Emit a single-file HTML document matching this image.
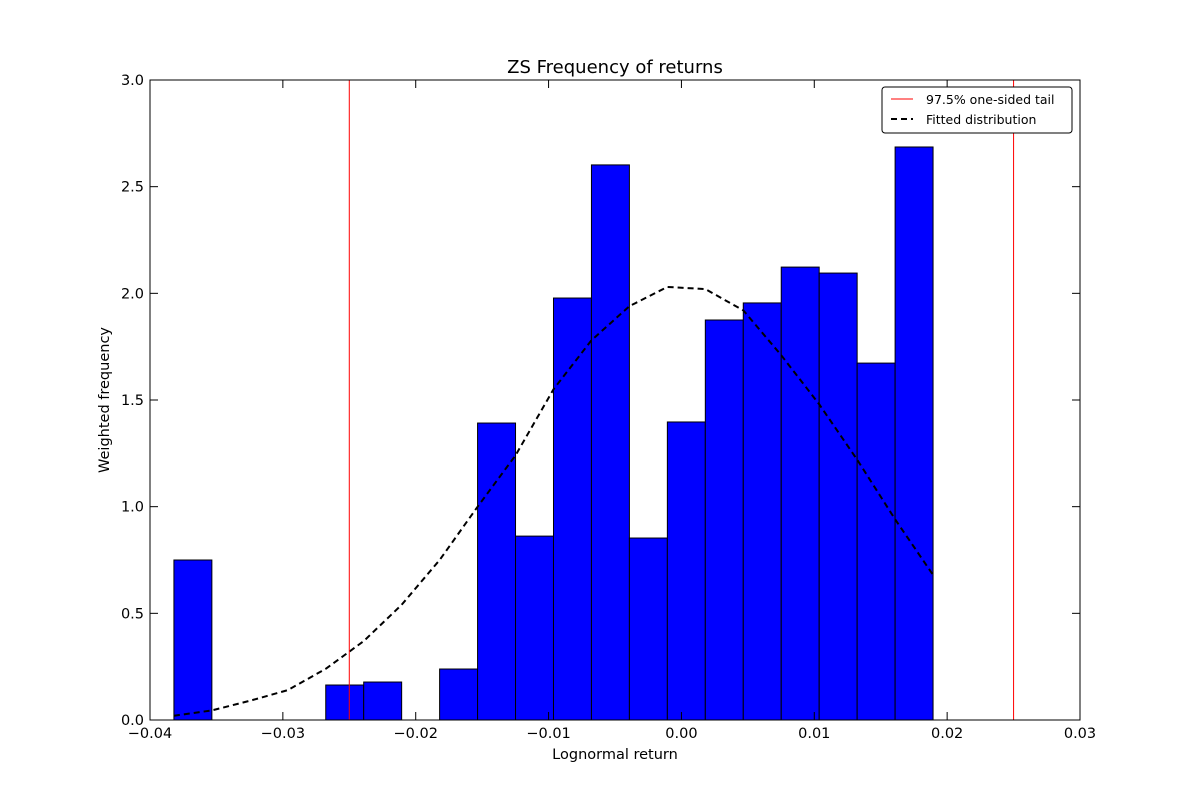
<!DOCTYPE html>
<html><head><meta charset="utf-8"><style>
body{margin:0;background:#fff}
svg text{font-family:"DejaVu Sans","Liberation Sans",sans-serif}
</style></head><body>
<svg id="chart" width="1200" height="800" xmlns="http://www.w3.org/2000/svg">
<rect width="1200" height="800" fill="#fff"/>
<g id="bars"></g>
<g id="curve"></g>
<g id="vlines"></g>
<rect x="150" y="80" width="930" height="640" fill="none" stroke="#000" stroke-width="1"/>
<g id="ticks"></g>
<text x="615" y="73" font-size="18" text-anchor="middle">ZS Frequency of returns</text>
<text x="615" y="759" font-size="14.5" text-anchor="middle">Lognormal return</text>
<text transform="translate(109,400) rotate(-90)" font-size="14.5" text-anchor="middle">Weighted frequency</text>
<g>
<rect x="882" y="87" width="190" height="46" fill="#fff" stroke="#000" stroke-width="1" rx="3"/>
<line x1="891" y1="99" x2="913" y2="99" stroke="red" stroke-width="1"/>
<text x="926" y="104" font-size="12.5">97.5% one-sided tail</text>
<line x1="891" y1="119" x2="913" y2="119" stroke="#000" stroke-width="2" stroke-dasharray="6,4"/>
<text x="926" y="124" font-size="12.5">Fitted distribution</text>
</g>
</svg>
<script>
const binStart = -0.0382;
const binWidth = 0.002857;
const binHeights = [0.75,0,0,0,0.164,0.178,0,0.239,1.392,0.862,1.978,2.602,0.853,1.397,1.875,1.955,2.123,2.095,1.673,2.686];
const fitX = [-0.0382,-0.03534,-0.03249,-0.02963,-0.02677,-0.02391,-0.02106,-0.0182,-0.01534,-0.01249,-0.00963,-0.00677,-0.00391,-0.00106,0.0018,0.00466,0.00751,0.01037,0.01323,0.01609,0.01894];
const fitY = [0.02,0.045,0.09,0.14,0.24,0.37,0.54,0.75,1.0,1.24,1.55,1.78,1.94,2.03,2.02,1.92,1.71,1.48,1.22,0.94,0.68];
const tailLines = [-0.025,0.025];
const xTicks = [-0.04,-0.03,-0.02,-0.01,0.00,0.01,0.02,0.03];
const xTickLabels = ["\u22120.04","\u22120.03","\u22120.02","\u22120.01","0.00","0.01","0.02","0.03"];
const yTicks = [0,0.5,1,1.5,2,2.5,3];
const yTickLabels = ["0.0","0.5","1.0","1.5","2.0","2.5","3.0"];
const NS="http://www.w3.org/2000/svg";
const X=v=>150+(v+0.04)/0.07*930;
const Y=v=>720-v/3*640;
function mk(t,a,p){const e=document.createElementNS(NS,t);for(const k in a)e.setAttribute(k,a[k]);p.appendChild(e);return e;}
const bars=document.getElementById('bars');
binHeights.forEach((h,i)=>{
  if(h<=0)return;
  const x0=X(binStart+i*binWidth), x1=X(binStart+(i+1)*binWidth);
  const r=mk('rect',{x:x0,y:Y(h),width:x1-x0,height:Y(0)-Y(h),fill:'#0000ff',stroke:'#000','stroke-width':1},bars);
  
  
});
const cv=document.getElementById('curve');
const pth=mk('path',{d:fitX.map((x,i)=>(i?'L':'M')+X(x)+','+Y(fitY[i])).join(''),fill:'none',stroke:'#000','stroke-width':2,'stroke-dasharray':'6,4'},cv);


const vl=document.getElementById('vlines');
tailLines.forEach((v,i)=>{
  const l=mk('line',{x1:X(v),x2:X(v),y1:80,y2:720,stroke:'red','stroke-width':1},vl);
  
  
});
const tk=document.getElementById('ticks');
xTicks.forEach((v,i)=>{
  const x=X(v);
  mk('line',{x1:x,x2:x,y1:720,y2:712,stroke:'#000'},tk);
  mk('line',{x1:x,x2:x,y1:80,y2:88,stroke:'#000'},tk);
  const t=mk('text',{x:x,y:738,'font-size':14.5,'text-anchor':'middle'},tk);
  t.textContent=xTickLabels[i];
  
  
});
yTicks.forEach((v,i)=>{
  const y=Y(v);
  mk('line',{x1:150,x2:158,y1:y,y2:y,stroke:'#000'},tk);
  mk('line',{x1:1080,x2:1072,y1:y,y2:y,stroke:'#000'},tk);
  const t=mk('text',{x:144,y:y+5,'font-size':14.5,'text-anchor':'end'},tk);
  t.textContent=yTickLabels[i];
  
  
});
</script>
</body></html>
